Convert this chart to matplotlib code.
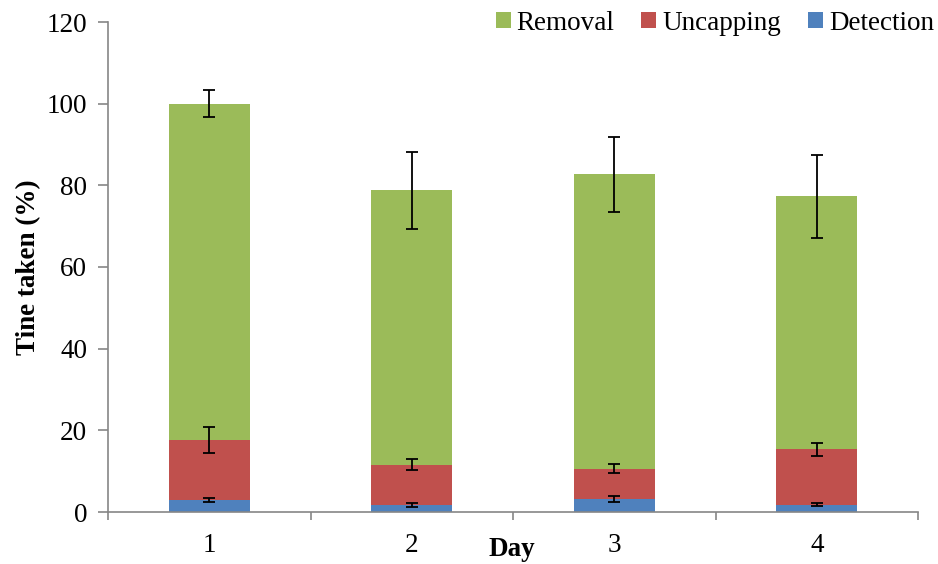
import matplotlib
matplotlib.use("Agg")
import matplotlib.pyplot as plt
import numpy as np

plt.rcParams['font.family'] = ['Liberation Serif', 'DejaVu Serif']

days = ["1", "2", "3", "4"]
detection = [2.9, 1.7, 3.2, 1.8]
uncapping = [14.8, 9.9, 7.4, 13.6]
removal = [82.3, 67.2, 72.1, 61.9]
detection_err = [0.5, 0.45, 0.65, 0.4]
uncapping_err = [3.2, 1.35, 1.1, 1.6]
removal_err = [3.3, 9.4, 9.25, 10.2]

green = "#9BBB59"
red = "#C0504D"
blue = "#4F81BD"
axis_gray = "#868686"
fs = 19.5

fig = plt.figure(figsize=(9.38, 5.64), dpi=100)
ax = fig.add_axes([108 / 938, 52 / 564, 810 / 938, 490 / 564])

x = np.arange(len(days))
w = 0.4
det = np.array(detection)
unc = np.array(uncapping)
rem = np.array(removal)

ax.bar(x, det, w, color=blue, label="Detection", zorder=2)
ax.bar(x, unc, w, bottom=det, color=red, label="Uncapping", zorder=2)
ax.bar(x, rem, w, bottom=det + unc, color=green, label="Removal", zorder=2)

ekw = dict(fmt="none", ecolor="black", elinewidth=1.3, capsize=4.5, capthick=1.3, zorder=3)
ax.errorbar(x, det, yerr=detection_err, **ekw)
ax.errorbar(x, det + unc, yerr=uncapping_err, **ekw)
ax.errorbar(x, det + unc + rem, yerr=removal_err, **ekw)

ax.set_xlim(-0.5, 3.5)
ax.set_ylim(0, 120)
ax.set_yticks(np.arange(0, 121, 20))

ax.set_xticks(np.arange(-0.5, 3.6, 1.0))
ax.set_xticklabels([])
ax.set_xticks(x, minor=True)
ax.set_xticklabels(days, minor=True)
ax.tick_params(axis="x", which="major", direction="out", length=6, width=1.2, color=axis_gray)
ax.tick_params(axis="x", which="minor", length=0, pad=15, labelsize=fs)
ax.tick_params(axis="y", direction="out", length=7, width=1.2, color=axis_gray, labelsize=fs, pad=8)

for s in ["top", "right"]:
    ax.spines[s].set_visible(False)
for s in ["left", "bottom"]:
    ax.spines[s].set_color(axis_gray)
    ax.spines[s].set_linewidth(1.2)

ax.set_ylabel("Tine taken (%)", fontsize=fs, fontweight="bold", labelpad=4)
fig.text(512 / 938, 1 - 550 / 564, "Day", fontsize=fs, fontweight="bold", ha="center", va="center")

handles, labels = ax.get_legend_handles_labels()
order = [2, 1, 0]
ax.legend([handles[i] for i in order], [labels[i] for i in order],
          ncol=3, frameon=False, fontsize=fs, loc="center right",
          bbox_to_anchor=(934 / 938, 1 - 23 / 564), bbox_transform=fig.transFigure,
          handlelength=0.55, handleheight=0.55, handletextpad=0.22, columnspacing=1.0,
          borderaxespad=0, borderpad=0)

fig.savefig("out.png", dpi=100)
